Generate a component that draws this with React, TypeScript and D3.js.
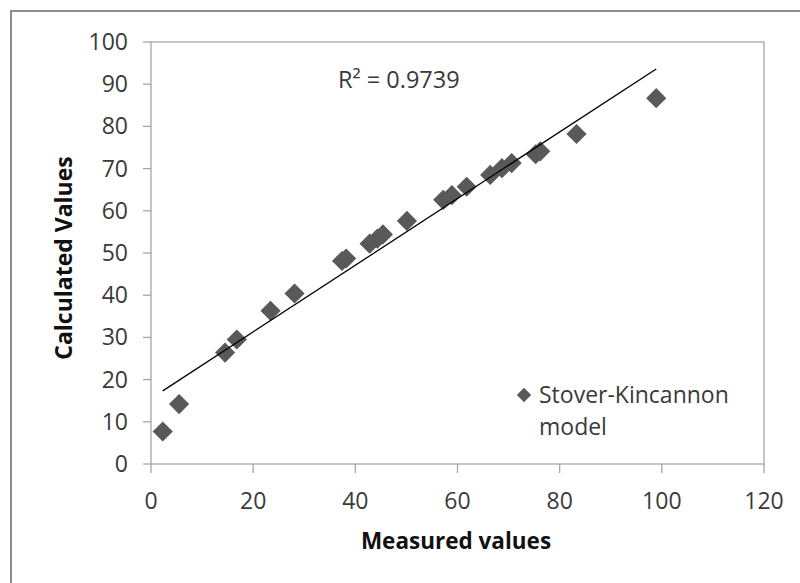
import React from "react";
import * as d3 from "d3";

const measured = [2.3, 5.5, 14.5, 16.8, 23.4, 28.1, 37.4, 38.2, 42.8, 44.3, 45.4, 50.1, 57.2, 58.9, 61.8, 66.4, 68.7, 70.6, 75.3, 76.2, 83.3, 98.9];
const calculated = [7.7, 14.2, 26.4, 29.5, 36.3, 40.4, 48.1, 48.7, 52.2, 53.4, 54.4, 57.6, 62.6, 63.7, 65.7, 68.5, 70.1, 71.3, 73.4, 74.1, 78.2, 86.7];
const xTicks = [0, 20, 40, 60, 80, 100, 120];
const yTicks = [0, 10, 20, 30, 40, 50, 60, 70, 80, 90, 100];
const r2Label = "R² = 0.9739";
const seriesName = ["Stover-Kincannon", "model"];
const xTitle = "Measured values";
const yTitle = "Calculated Values";

export default function App() {
  const W = 800, H = 583;
  const left = 151, right = 764, top = 42, bottom = 464;
  const x = d3.scaleLinear().domain([0, 120]).range([left, right]);
  const y = d3.scaleLinear().domain([0, 100]).range([bottom, top]);

  const n = measured.length;
  const mx = d3.mean(measured)!;
  const my = d3.mean(calculated)!;
  let sxy = 0, sxx = 0;
  for (let i = 0; i < n; i++) {
    sxy += (measured[i] - mx) * (calculated[i] - my);
    sxx += (measured[i] - mx) ** 2;
  }
  const slope = sxy / sxx;
  const intercept = my - slope * mx;
  const x0 = d3.min(measured)!;
  const x1 = d3.max(measured)!;
  const line = d3.line<number>().x((d) => x(d)).y((d) => y(intercept + slope * d));

  const diamond = d3.symbol().type(d3.symbolDiamond2).size(260)()!;
  const legDiamond = d3.symbol().type(d3.symbolDiamond2).size(130)()!;
  const font = "'Open Sans', 'DejaVu Sans', sans-serif";
  const axisColor = "#a6a6a6";
  const markColor = "#595959";
  const textColor = "#3a3a3a";

  return (
    <svg width={W} height={H} style={{ position: "absolute", left: 0, top: 0 }} fontFamily={font}>
      <rect x={0} y={0} width={W} height={H} fill="#fff" />
      <rect x={11} y={11} width={W + 20} height={H + 20} fill="none" stroke="#8c8c8c" strokeWidth={2} />
      <rect x={left} y={top} width={right - left} height={bottom - top} fill="none" stroke={axisColor} strokeWidth={1.3} />
      {yTicks.map((t) => (
        <g key={"y" + t}>
          <line x1={left - 8} x2={left} y1={y(t)} y2={y(t)} stroke={axisColor} strokeWidth={1.3} />
          <text x={128} y={y(t)} dy="0.35em" textAnchor="end" fontSize={23} fill={textColor}>{t}</text>
        </g>
      ))}
      {xTicks.map((t) => (
        <g key={"x" + t}>
          <line x1={x(t)} x2={x(t)} y1={bottom} y2={bottom + 9} stroke={axisColor} strokeWidth={1.3} />
          <text x={x(t)} y={509} textAnchor="middle" fontSize={23} fill={textColor}>{t}</text>
        </g>
      ))}
      {measured.map((m, i) => (
        <path key={i} d={diamond} transform={`translate(${x(m)},${y(calculated[i])})`} fill={markColor} />
      ))}
      <path d={line([x0, x1])!} stroke="#000" strokeWidth={1.3} fill="none" />
      <text x={338} y={80} dy="0.35em" fontSize={23.5} fill={textColor}>{r2Label}</text>
      <path d={legDiamond} transform={`translate(524,395)`} fill={markColor} />
      <text x={539} y={395} dy="0.35em" fontSize={23} fill={textColor}>{seriesName[0]}</text>
      <text x={539} y={427} dy="0.35em" fontSize={23} fill={textColor}>{seriesName[1]}</text>
      <text x={456} y={549} textAnchor="middle" fontSize={22.5} fontWeight="bold" fill="#111">{xTitle}</text>
      <text transform={`translate(64,258) rotate(-90)`} dy="0.35em" textAnchor="middle" fontSize={23} fontWeight="bold" fill="#111">{yTitle}</text>
    </svg>
  );
}
